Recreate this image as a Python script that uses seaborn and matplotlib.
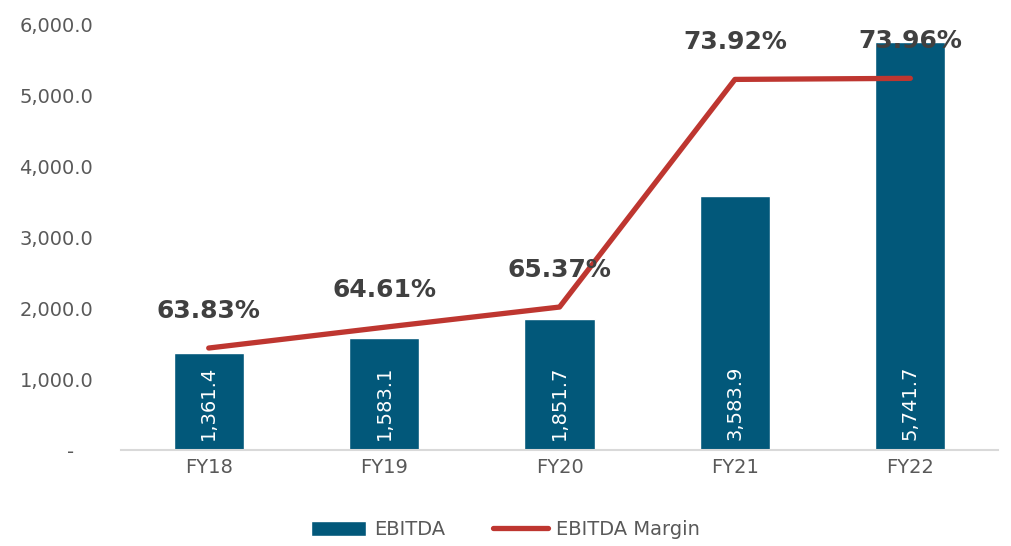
import numpy as np
import pandas as pd
import matplotlib
matplotlib.use("Agg")
import matplotlib.pyplot as plt
import seaborn as sns
from matplotlib.ticker import FixedLocator, FuncFormatter
from matplotlib.patches import Patch
from matplotlib.lines import Line2D

# Datos
years = ["FY18", "FY19", "FY20", "FY21", "FY22"]
ebitda = [1361.4, 1583.1, 1851.7, 3583.9, 5741.7]
margin = [63.83, 64.61, 65.37, 73.92, 73.96]

BAR_COLOR = "#02587A"
LINE_COLOR = "#BE3630"
TEXT_COLOR = "#595959"


def main():
    sns.set_style("white")
    plt.rcParams["font.family"] = ["DejaVu Sans"]

    df = pd.DataFrame({"year": years, "ebitda": ebitda, "margin": margin})

    fig = plt.figure(figsize=(10.11, 5.46), dpi=100)
    ax = fig.add_axes([0.1197, 0.1758, 0.8675, 0.7802])

    # Barras de EBITDA
    sns.barplot(data=df, x="year", y="ebitda", color=BAR_COLOR, width=0.4,
                saturation=1, ax=ax)
    ax.set_xlim(-0.5, len(years) - 0.5)
    ax.set_ylim(0, 6000)
    ax.set_yticks(np.arange(0, 6001, 1000))
    ax.yaxis.set_major_formatter(
        FuncFormatter(lambda v, p: "-   " if v == 0 else f"{v:,.1f}"))
    ax.set_xlabel("")
    ax.set_ylabel("")
    for s in ["top", "right", "left"]:
        ax.spines[s].set_visible(False)
    ax.spines["bottom"].set_color("#D9D9D9")
    ax.spines["bottom"].set_linewidth(1.5)
    ax.tick_params(axis="y", length=0, labelsize=14, labelcolor=TEXT_COLOR, pad=20)
    ax.tick_params(axis="x", which="major", length=0, labelsize=14,
                   labelcolor=TEXT_COLOR, pad=6)
    ax.xaxis.set_minor_locator(FixedLocator(np.arange(-0.5, len(years), 1.0)))
    ax.tick_params(axis="x", which="minor", length=8, width=1.5,
                   color="#D9D9D9", direction="out")

    # Etiquetas dentro de las barras, desde la base
    for p, v in zip(ax.patches, ebitda):
        ax.annotate(f"{v:,.1f}", (p.get_x() + p.get_width() / 2, 0),
                    xytext=(0, 7), textcoords="offset points", rotation=90,
                    ha="center", va="bottom", color="white", fontsize=14)

    # Línea de margen en eje secundario
    ax2 = ax.twinx()
    sns.lineplot(x=np.arange(len(years)), y=margin, color=LINE_COLOR,
                 linewidth=3.8, ax=ax2, solid_capstyle="round")
    ax2.set_ylim(60, 76)
    ax2.axis("off")
    for i, m in enumerate(margin):
        ax2.annotate(f"{m:.2f}%", (i, m), xytext=(0, 27), textcoords="offset points",
                     ha="center", va="center", fontsize=18, fontweight="bold",
                     color="#404040")

    handles = [Patch(facecolor=BAR_COLOR, label="EBITDA"),
               Line2D([0], [0], color=LINE_COLOR, lw=3.8, solid_capstyle="round",
                      label="EBITDA Margin")]
    fig.legend(handles=handles, loc="center", bbox_to_anchor=(0.5, 0.03), ncol=2,
               frameon=False, fontsize=14, labelcolor=TEXT_COLOR,
               handlelength=2.8, handleheight=0.8, columnspacing=2.5,
               handletextpad=0.4)

    plt.savefig("out.png", dpi=100)


if __name__ == "__main__":
    main()
